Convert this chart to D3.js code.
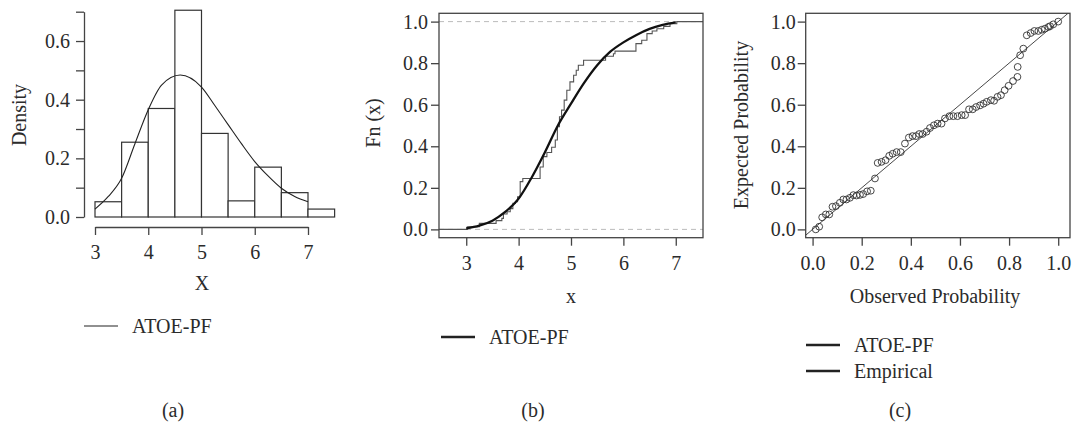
<!DOCTYPE html>
<meta charset="utf-8">
<script src="https://cdn.jsdelivr.net/npm/d3@7"></script>
<style>
  body { margin: 0; background: #fff; }
  svg text { font-family: "Liberation Serif", "Times New Roman", "DejaVu Serif", serif; fill: #2b2b2b; }
</style>
<div id="my_dataviz"></div>
<script>
    // (a) histogram
    let binStarts = [3.0, 3.5, 4.0, 4.5, 5.0, 5.5, 6.0, 6.5, 7.0];
    let binDensity = [0.052, 0.255, 0.37, 0.705, 0.285, 0.055, 0.17, 0.083, 0.027];
    let densX = [3.0, 3.25, 3.5, 3.75, 4.0, 4.25, 4.6, 5.0, 5.25, 5.5, 5.75, 6.0, 6.25, 6.5, 6.75, 7.0];
    let densY = [0.027, 0.07, 0.132, 0.25, 0.366, 0.45, 0.484, 0.443, 0.38, 0.315, 0.25, 0.189, 0.14, 0.098, 0.07, 0.052];

    // (b) fitted cdf and empirical cdf
    let cdfX = [3.0, 3.25, 3.5, 3.75, 4.0, 4.25, 4.5, 4.75, 5.0, 5.25, 5.5, 5.75, 6.0, 6.25, 6.5, 6.75, 7.0];
    let cdfY = [0.005, 0.018, 0.042, 0.085, 0.148, 0.25, 0.37, 0.5, 0.605, 0.705, 0.79, 0.855, 0.9, 0.936, 0.965, 0.984, 0.996];
    let ecdfX = [3.02, 3.25, 3.57, 3.68, 3.71, 3.78, 3.84, 3.89, 3.94, 3.98, 4.03, 4.08, 4.41, 4.47, 4.54, 4.63, 4.70, 4.74, 4.78, 4.82, 4.87, 4.92, 4.98, 5.05, 5.10, 5.14, 5.24, 5.66, 5.81, 5.84, 6.24, 6.35, 6.45, 6.55, 6.64, 6.77, 6.89, 7.02];
    let ecdfY = [0.0125, 0.029, 0.042, 0.053, 0.074, 0.085, 0.1, 0.125, 0.133, 0.157, 0.23, 0.245, 0.3, 0.35, 0.37, 0.395, 0.43, 0.494, 0.542, 0.574, 0.622, 0.67, 0.71, 0.742, 0.766, 0.79, 0.814, 0.833, 0.845, 0.858, 0.894, 0.91, 0.942, 0.955, 0.966, 0.977, 0.99, 1.0];

    // (c) P-P plot points
    let obsP = [0.013, 0.027, 0.039, 0.054, 0.068, 0.081, 0.095, 0.111, 0.125, 0.138, 0.152, 0.166, 0.179, 0.193, 0.206, 0.222, 0.237, 0.254, 0.265, 0.281, 0.297, 0.312, 0.326, 0.342, 0.359, 0.376, 0.392, 0.407, 0.421, 0.434, 0.448, 0.464, 0.478, 0.494, 0.509, 0.525, 0.539, 0.557, 0.573, 0.590, 0.607, 0.621, 0.637, 0.652, 0.666, 0.682, 0.696, 0.709, 0.726, 0.739, 0.753, 0.767, 0.782, 0.798, 0.816, 0.834, 0.835, 0.845, 0.858, 0.872, 0.888, 0.903, 0.919, 0.933, 0.946, 0.960, 0.967, 0.980, 1.0];
    let expP = [0.0, 0.013, 0.058, 0.072, 0.072, 0.109, 0.112, 0.128, 0.144, 0.144, 0.152, 0.165, 0.163, 0.166, 0.170, 0.183, 0.186, 0.245, 0.320, 0.325, 0.333, 0.354, 0.364, 0.372, 0.372, 0.413, 0.442, 0.449, 0.449, 0.459, 0.459, 0.470, 0.488, 0.501, 0.509, 0.509, 0.534, 0.545, 0.545, 0.545, 0.550, 0.550, 0.578, 0.578, 0.589, 0.597, 0.605, 0.614, 0.622, 0.619, 0.638, 0.646, 0.670, 0.691, 0.714, 0.734, 0.782, 0.838, 0.870, 0.934, 0.945, 0.955, 0.955, 0.961, 0.966, 0.974, 0.978, 0.987, 1.0];

    let axisCol = "#444";
    let fs = "20px";
    let serif = '"Liberation Serif", "Times New Roman", "DejaVu Serif", serif';

    let svg = d3.select("#my_dataviz").append("svg")
        .attr("width", 1073)
        .attr("height", 422);

    const styleAxis = (g) => {
        g.selectAll("path, line").attr("stroke", axisCol).attr("stroke-width", 1.3);
        g.selectAll("text").style("font-size", fs).attr("fill", "#2b2b2b")
            .style("font-family", serif);
    };

    const addText = (x, y, label, rotate) => {
        return svg.append("text")
            .attr("transform", `translate(${x},${y})` + (rotate ? " rotate(-90)" : ""))
            .attr("dy", rotate ? null : "0.35em")
            .attr("text-anchor", "middle")
            .style("font-family", serif)
            .style("font-size", fs)
            .text(label);
    };

    const legendItem = (x, y, label, w) => {
        svg.append("line").attr("x1", x).attr("x2", x + 34).attr("y1", y).attr("y2", y)
            .attr("stroke", "#222").attr("stroke-width", w);
        svg.append("text").attr("x", x + 48).attr("y", y).attr("dy", "0.35em")
            .style("font-family", serif).style("font-size", fs).text(label);
    };

    // ---------- panel (a) ----------
    let xA = d3.scaleLinear().domain([3, 7]).range([95, 308]);
    let yA = d3.scaleLinear().domain([0, 0.7]).range([217, 11.7]);

    svg.append("g").selectAll("rect")
        .data(binStarts)
        .enter()
        .append("rect")
        .attr("x", d => xA(d))
        .attr("width", d => xA(d + 0.5) - xA(d))
        .attr("y", (d, i) => yA(binDensity[i]))
        .attr("height", (d, i) => yA(0) - yA(binDensity[i]))
        .attr("fill", "#fff")
        .attr("stroke", "#333")
        .attr("stroke-width", 1.2);

    svg.append("path")
        .datum(densX.map((d, i) => [d, densY[i]]))
        .attr("fill", "none")
        .attr("stroke", "#222")
        .attr("stroke-width", 1.1)
        .attr("d", d3.line().x(d => xA(d[0])).y(d => yA(d[1])).curve(d3.curveMonotoneX));

    svg.append("g")
        .attr("transform", "translate(84,0)")
        .call(d3.axisLeft(yA).tickValues(d3.range(0, 8).map(d => d / 10))
            .tickFormat(d => Math.round(d * 10) % 2 === 0 ? d3.format(".1f")(d) : "")
            .tickSize(8).tickSizeOuter(0).tickPadding(6))
        .call(styleAxis);

    svg.append("g")
        .attr("transform", "translate(0,227)")
        .call(d3.axisBottom(xA).tickValues([3, 4, 5, 6, 7]).tickFormat(d3.format("d"))
            .tickSize(8).tickSizeOuter(0).tickPadding(10))
        .call(styleAxis);

    addText(26, 115, "Density", true);
    addText(202, 283, "X");
    legendItem(84, 326, "ATOE-PF", 1.2);
    addText(173, 410, "(a)");

    // ---------- panel (b) ----------
    let xB = d3.scaleLinear().domain([2.48, 7.52]).range([439, 703]);
    let yB = d3.scaleLinear().domain([-0.04, 1.04]).range([237.7, 13.3]);

    [0, 1].forEach(v => {
        svg.append("line").attr("x1", 439).attr("x2", 703).attr("y1", yB(v)).attr("y2", yB(v))
            .attr("stroke", "#bbb").attr("stroke-width", 1).attr("stroke-dasharray", "5,4");
    });

    let ecdfPts = [[2.48, 0]].concat(ecdfX.map((d, i) => [d, ecdfY[i]])).concat([[7.52, 1]]);
    svg.append("path")
        .datum(ecdfPts)
        .attr("fill", "none")
        .attr("stroke", "#555")
        .attr("stroke-width", 1.1)
        .attr("d", d3.line().x(d => xB(d[0])).y(d => yB(d[1])).curve(d3.curveStepAfter));

    svg.append("path")
        .datum(cdfX.map((d, i) => [d, cdfY[i]]))
        .attr("fill", "none")
        .attr("stroke", "#111")
        .attr("stroke-width", 2.3)
        .attr("d", d3.line().x(d => xB(d[0])).y(d => yB(d[1])).curve(d3.curveMonotoneX));

    svg.append("rect").attr("x", 439).attr("y", 13.3).attr("width", 703 - 439).attr("height", 237.7 - 13.3)
        .attr("fill", "none").attr("stroke", axisCol).attr("stroke-width", 1.3);

    svg.append("g")
        .attr("transform", "translate(439,0)")
        .call(d3.axisLeft(yB).tickValues([0, 0.2, 0.4, 0.6, 0.8, 1.0]).tickFormat(d3.format(".1f"))
            .tickSize(8).tickSizeOuter(0).tickPadding(3))
        .call(g => g.select(".domain").remove())
        .call(styleAxis);

    svg.append("g")
        .attr("transform", "translate(0,237.7)")
        .call(d3.axisBottom(xB).tickValues([3, 4, 5, 6, 7]).tickFormat(d3.format("d"))
            .tickSize(8).tickSizeOuter(0).tickPadding(10))
        .call(g => g.select(".domain").remove())
        .call(styleAxis);

    addText(380, 123, "Fn (x)", true);
    addText(571, 296, "x");
    legendItem(441, 337, "ATOE-PF", 2.3);
    addText(533, 410, "(b)");

    // ---------- panel (c) ----------
    let xC = d3.scaleLinear().domain([-0.028, 1.048]).range([805.7, 1070]);
    let yC = d3.scaleLinear().domain([-0.04, 1.04]).range([237.7, 13.3]);

    svg.append("clipPath").attr("id", "clipC")
        .append("rect").attr("x", 805.7).attr("y", 13.3).attr("width", 1070 - 805.7).attr("height", 237.7 - 13.3);

    svg.append("line")
        .attr("clip-path", "url(#clipC)")
        .attr("x1", xC(-0.1)).attr("y1", yC(-0.1)).attr("x2", xC(1.1)).attr("y2", yC(1.1))
        .attr("stroke", "#333").attr("stroke-width", 0.9);

    svg.append("g").selectAll("circle")
        .data(obsP)
        .enter()
        .append("circle")
        .attr("cx", d => xC(d))
        .attr("cy", (d, i) => yC(expP[i]))
        .attr("r", 3.4)
        .attr("fill", "none")
        .attr("stroke", "#333")
        .attr("stroke-width", 0.9);

    svg.append("rect").attr("x", 805.7).attr("y", 13.3).attr("width", 1070 - 805.7).attr("height", 237.7 - 13.3)
        .attr("fill", "none").attr("stroke", axisCol).attr("stroke-width", 1.3);

    svg.append("g")
        .attr("transform", "translate(805.7,0)")
        .call(d3.axisLeft(yC).tickValues([0, 0.2, 0.4, 0.6, 0.8, 1.0]).tickFormat(d3.format(".1f"))
            .tickSize(8).tickSizeOuter(0).tickPadding(2))
        .call(g => g.select(".domain").remove())
        .call(styleAxis);

    svg.append("g")
        .attr("transform", "translate(0,237.7)")
        .call(d3.axisBottom(xC).tickValues([0, 0.2, 0.4, 0.6, 0.8, 1.0]).tickFormat(d3.format(".1f"))
            .tickSize(8).tickSizeOuter(0).tickPadding(10))
        .call(g => g.select(".domain").remove())
        .call(styleAxis);

    addText(748, 125, "Expected Probability", true);
    addText(935, 296, "Observed Probability");
    legendItem(806, 345, "ATOE-PF", 2.3);
    legendItem(806, 371, "Empirical", 2.3);
    addText(900, 410, "(c)");
</script>
